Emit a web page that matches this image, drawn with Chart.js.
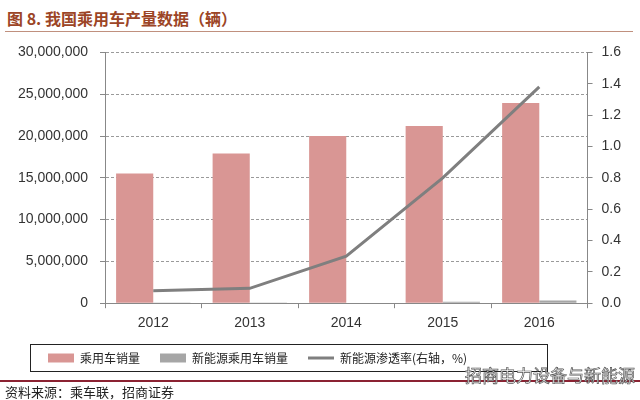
<!DOCTYPE html>
<html><head><meta charset="utf-8">
<script src="https://cdn.jsdelivr.net/npm/chart.js@4/dist/chart.umd.min.js"></script>
<style>
html,body{margin:0;padding:0;background:#fff;width:640px;height:400px;overflow:hidden;position:relative;}
#title{position:absolute;left:7px;top:6px;font:bold 16px "Noto Sans CJK SC";color:#9c4526;white-space:nowrap;}
#tline{position:absolute;left:5px;top:31px;width:628px;height:1px;background:#c0907e;}
#wrap{position:absolute;left:0;top:32px;width:640px;height:351px;}
#sline{position:absolute;left:0;top:380px;width:640px;height:2px;background:#8b2232;}
#src{position:absolute;left:5px;top:382px;font:13px "Noto Sans CJK SC";color:#222;white-space:nowrap;}
#wm{position:absolute;left:465px;top:362px;font:17px "Noto Sans CJK SC";color:#fff;-webkit-text-stroke:0.7px #555;white-space:nowrap;}
</style></head>
<body>
<div id="title">图 8. 我国乘用车产量数据（辆）</div>
<div id="tline"></div>
<div id="wrap"><canvas id="c" width="640" height="351"></canvas></div>
<div id="sline"></div>
<div id="src">资料来源：乘车联，招商证券</div>
<div id="wm">招商电力设备与新能源</div>
<script>
const years = ['2012','2013','2014','2015','2016'];
const carSales = [15500000, 17900000, 20000000, 21200000, 23950000];
const nevSales = [12000, 15000, 60000, 170000, 330000];
const nevRate = [0.08, 0.095, 0.30, 0.80, 1.38];
const seriesNames = ['乘用车销量', '新能源乘用车销量', '新能源渗透率(右轴，%)'];
const leftTicks = [0, 5000000, 10000000, 15000000, 20000000, 25000000, 30000000];

const tickFont = {family: 'Liberation Sans', size: 14};
const LEG_PAD = 20;
const legendBox = {
  id: 'legendBox',
  beforeDraw(chart) {
    const lg = chart.legend;
    if (!lg) return;
    lg.left = 28;
    lg.top -= 7;
  },
  afterDraw(chart) {
    const lg = chart.legend;
    if (!lg) return;
    const cy = lg.top + LEG_PAD + 6;
    const ctx = chart.ctx;
    ctx.save();
    ctx.strokeStyle = '#222';
    ctx.lineWidth = 1;
    ctx.strokeRect(30.5, Math.round(cy - 14) + 0.5, 517, 27);
    ctx.restore();
  }
};

new Chart(document.getElementById('c'), {
  type: 'bar',
  data: {
    labels: years,
    datasets: [
      {label: seriesNames[0], data: carSales, backgroundColor: '#d99694', borderWidth: 0, yAxisID: 'y', order: 2, pointStyle: 'rect', categoryPercentage: 0.77, barPercentage: 1},
      {label: seriesNames[1], data: nevSales, backgroundColor: '#a6a6a6', borderWidth: 0, yAxisID: 'y', order: 2, pointStyle: 'rect', categoryPercentage: 0.77, barPercentage: 1},
      {type: 'line', label: seriesNames[2], data: nevRate, borderColor: '#7f7f7f', backgroundColor: '#7f7f7f', borderWidth: 3, pointRadius: 0, pointStyle: 'line', yAxisID: 'y1', order: 1, tension: 0}
    ]
  },
  options: {
    responsive: false,
    animation: false,
    devicePixelRatio: 1,
    layout: {padding: {left: 8, right: 10, top: 7, bottom: 2}},
    plugins: {
      title: {display: false},
      tooltip: {enabled: false},
      legend: {
        position: 'bottom', align: 'start',
        labels: {
          usePointStyle: true, pointStyleWidth: 26, boxHeight: 9,
          padding: LEG_PAD, color: '#222',
          font: {family: 'Noto Sans CJK SC', size: 12},
          sort: (a, b) => a.datasetIndex - b.datasetIndex
        }
      }
    },
    scales: {
      x: {
        offset: true,
        grid: {offset: true, drawOnChartArea: false, color: '#888', tickLength: 5},
        border: {color: '#888'},
        ticks: {font: tickFont, color: '#333', padding: 7}
      },
      y: {
        position: 'left', min: 0, max: 30000000,
        afterFit: (s) => { s.width = 97; },
        afterBuildTicks: (s) => { s.ticks = leftTicks.map(v => ({value: v})); },
        grid: {color: '#9a9a9a', tickLength: 5, tickColor: '#888', tickBorderDash: []},
        border: {color: '#888', dash: [3, 2]},
        ticks: {font: tickFont, color: '#333', padding: 12, callback: v => v.toLocaleString('en-US')}
      },
      y1: {
        position: 'right', min: 0, max: 1.6,
        grid: {drawOnChartArea: false, color: '#888', tickLength: 5},
        border: {color: '#888'},
        ticks: {stepSize: 0.2, font: tickFont, color: '#333', padding: 9, callback: v => v.toFixed(1)}
      }
    }
  },
  plugins: [legendBox]
});
</script>
</body></html>
